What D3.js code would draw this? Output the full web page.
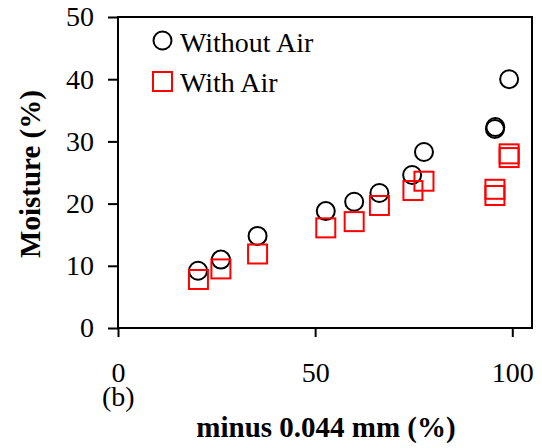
<!DOCTYPE html>
<html>
<head>
<meta charset="utf-8">
<script src="https://cdn.jsdelivr.net/npm/d3@7"></script>
<style>
    body { margin: 0; background: #fff; }
    svg text { font-family: "Liberation Serif", "Times New Roman", serif; fill: #000; }
</style>
</head>
<body>
<div id="chart"></div>
<script>
// values
let xWithout = [20.3, 26.1, 35.4, 52.7, 59.9, 66.3, 74.6, 77.6, 95.6, 95.7, 99.2];
let yWithout = [9.2, 11.0, 14.8, 18.8, 20.3, 21.7, 24.6, 28.3, 32.0, 32.3, 40.0];
let xWith = [20.4, 26.1, 35.4, 52.7, 59.9, 66.3, 74.8, 77.6, 95.6, 95.6, 99.2, 99.2];
let yWith = [7.8, 9.5, 11.9, 16.1, 17.1, 19.7, 22.1, 23.6, 22.3, 21.3, 28.0, 27.4];
let xTicks = [0, 50, 100];
let yTicks = [0, 10, 20, 30, 40, 50];

function chart(selector) {

    let width = 542,
        height = 448;
    let margin = {top: 17, right: 10, bottom: 120, left: 118};

    let svg = d3.select(selector)
        .append("svg")
        .attr("width", width)
        .attr("height", height);

    let x = d3.scaleLinear()
        .domain([0, 105])    //frame runs a bit past 100
        .range([margin.left, width - margin.right]);

    let y = d3.scaleLinear()
        .domain([0, 50])
        .range([height - margin.bottom, margin.top]);

    // box round the plot
    svg.append("rect")
        .attr("x", x(0))
        .attr("y", y(50))
        .attr("width", x(105) - x(0))
        .attr("height", y(0) - y(50))
        .attr("fill", "none")
        .attr("stroke", "#000")
        .attr("stroke-width", 2);

    let yAxis = svg.append("g")
        .attr("transform", "translate(" + x(0) + ",0)")
        .call(d3.axisLeft(y).tickValues(yTicks).tickSize(10).tickPadding(14));

    let xAxis = svg.append("g")
        .attr("transform", "translate(0," + y(0) + ")")
        .call(d3.axisBottom(x).tickValues(xTicks).tickSize(9).tickPadding(25));

    [yAxis, xAxis].forEach(function(g) {
        g.select(".domain").remove();
        g.selectAll("line").attr("stroke", "#000").attr("stroke-width", 2);
        g.selectAll("text").attr("font-size", 28).attr("font-family", "Liberation Serif");
    });

    // without air = black circles
    svg.selectAll("circle.without")
        .data(d3.zip(xWithout, yWithout))
        .enter()
        .append("circle")
        .attr("class", "without")
        .attr("cx", function(d) { return x(d[0]); })
        .attr("cy", function(d) { return y(d[1]); })
        .attr("r", 9)
        .attr("fill", "none")
        .attr("stroke", "#000")
        .attr("stroke-width", 2);

    // with air = red squares
    let side = 19;
    svg.selectAll("rect.with")
        .data(d3.zip(xWith, yWith))
        .enter()
        .append("rect")
        .attr("class", "with")
        .attr("x", function(d) { return x(d[0]) - side / 2; })
        .attr("y", function(d) { return y(d[1]) - side / 2; })
        .attr("width", side)
        .attr("height", side)
        .attr("fill", "none")
        .attr("stroke", "#ff0000")
        .attr("stroke-width", 2);

    // legend
    let legend = svg.append("g");
    legend.append("circle")
        .attr("cx", 162.5).attr("cy", 40.5).attr("r", 9)
        .attr("fill", "none").attr("stroke", "#000").attr("stroke-width", 2);
    legend.append("text")
        .attr("x", 180).attr("y", 52)
        .attr("font-size", 28)
        .text("Without Air");
    legend.append("rect")
        .attr("x", 153).attr("y", 72).attr("width", side).attr("height", side)
        .attr("fill", "none").attr("stroke", "#ff0000").attr("stroke-width", 2);
    legend.append("text")
        .attr("x", 180).attr("y", 92)
        .attr("font-size", 28)
        .text("With Air");

    svg.append("text")
        .attr("x", 102).attr("y", 406)
        .attr("font-size", 28)
        .text("(b)");

    svg.append("text")
        .attr("x", 326).attr("y", 437)
        .attr("text-anchor", "middle")
        .attr("font-size", 29)
        .attr("font-weight", "bold")
        .text("minus 0.044 mm (%)");

    svg.append("text")
        .attr("transform", "translate(40,174) rotate(-90)")
        .attr("text-anchor", "middle")
        .attr("font-size", 29)
        .attr("font-weight", "bold")
        .text("Moisture (%)");

    return chart;
}

chart("#chart");
</script>
</body>
</html>
